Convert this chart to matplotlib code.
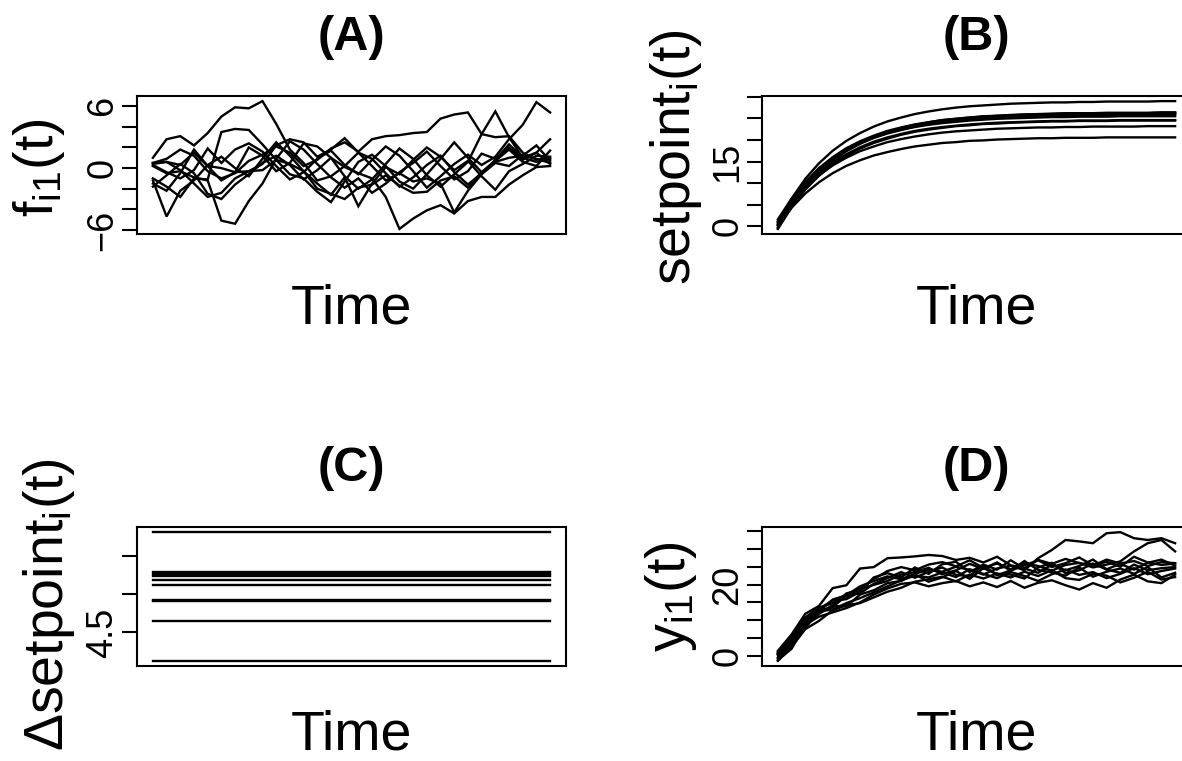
#!/usr/bin/env python3
# -*- coding: utf-8 -*-
# Figura de 4 paneles: f_i1(t), setpoint_i(t), delta setpoint_i(t), y_i1(t)
# Uso: python plot.py  -> out.png

import matplotlib
matplotlib.use("Agg")
import matplotlib.pyplot as plt

plt.rcParams["font.family"] = ["Liberation Sans", "DejaVu Sans"]
plt.rcParams["mathtext.fontset"] = "custom"
plt.rcParams["mathtext.rm"] = "Liberation Sans"
plt.rcParams["mathtext.it"] = "Liberation Sans:italic"
plt.rcParams["mathtext.bf"] = "Liberation Sans:bold"

TIEMPO = list(range(1, 31))

# (A) f_i1(t), 10 series
F_I1 = [
    [1.0, 2.8, 3.1, 2.2, 3.4, 5.0, 5.9, 5.8, 6.5, 4.3, 1.8, 0.5, -1.2, -0.8, 0.2,
     1.5, 0.9, -0.5, -1.8, -0.9, 0.3, 1.2, -0.4, -1.6, -0.5, 0.8, 2.3, 1.0, 0.6, 0.9],
    [0.5, 0.9, 1.8, 1.2, -0.3, -1.0, -0.5, 0.7, 1.3, 2.1, 1.5, 0.2, 0.8, 1.9, 2.5,
     1.6, 2.8, 3.1, 3.2, 3.4, 3.5, 4.8, 5.2, 5.4, 3.3, 3.0, 3.1, 1.5, 0.8, 1.0],
    [-1.5, -2.2, -0.5, 1.8, 0.2, -1.2, -0.4, 2.0, 1.2, -0.3, 0.5, 2.4, 2.1, 1.0, -0.8,
     -2.0, -1.1, 0.4, 1.9, 0.9, -0.7, -1.8, -0.6, 0.6, 3.3, 5.5, 3.0, 1.0, 1.5, 2.8],
    [0.3, -0.4, -1.0, -0.2, 1.9, 0.5, 1.8, 2.4, 1.6, 0.2, -1.1, -0.4, 0.9, 1.7, 0.3,
     -0.6, 0.8, 2.1, 1.2, -0.3, -1.9, -0.8, 0.4, 1.3, 0.3, 1.1, 2.8, 4.2, 6.4, 5.4],
    [-1.8, -0.7, 0.4, -0.5, -2.5, -3.0, -1.6, -0.6, 0.5, 1.2, 0.3, -1.1, -0.2, 1.0, 0.1,
     -0.5, -1.0, -2.8, -5.9, -4.9, -4.1, -3.6, -4.4, -3.2, -2.8, -2.8, -1.6, -0.7, 0.1, 0.2],
    [0.5, 0.6, -0.2, -1.5, -2.8, -2.4, -1.0, -0.3, 0.4, 2.2, 2.8, 2.5, 1.1, 1.8, 2.9,
     1.5, 0.2, -1.2, -0.5, -1.3, -1.0, -1.5, -4.3, -2.2, -0.6, 0.5, 0.2, 1.3, 0.9, 0.5],
    [-1.2, -4.7, -2.2, -1.2, 0.3, 1.1, 0.0, -0.8, 0.9, 2.5, 1.2, -0.3, -1.5, -2.6, -0.9,
     -3.7, -1.5, 0.1, -0.6, 0.8, 2.0, 1.1, -0.2, 0.7, -0.8, -2.1, -0.3, 0.4, 1.2, 1.1],
    [0.2, -0.5, -0.3, -0.9, -1.2, -5.1, -5.4, -3.2, -1.5, 0.9, 2.6, 1.8, 0.4, -0.9, -1.9,
     -1.0, -2.4, -1.5, -0.4, 0.5, 1.6, 0.2, -1.1, -0.3, 1.4, 0.9, 2.0, 0.8, 1.5, 0.4],
    [-1.0, -1.8, -2.8, -1.0, -1.1, 3.5, 3.8, 3.7, 2.3, 0.8, -0.6, -1.0, -2.3, -3.3, -1.3,
     0.6, 1.3, 0.2, -1.3, -2.0, -0.6, 0.9, 2.5, 1.0, -0.4, 0.7, 1.8, 0.6, 0.2, 1.7],
    [0.4, 0.6, 0.3, 1.5, 0.2, 0.0, -0.4, -0.3, -0.2, 0.8, 0.4, -0.3, -2.0, -2.5, -3.0,
     -1.9, -1.6, -0.7, -1.7, -2.4, -2.3, -1.2, -0.8, -1.9, -0.4, 0.6, 1.0, 1.2, 2.2, 0.7],
]

# (B) setpoint_i(t)
SETPOINT = [
    [0.8, 6.4, 11.0, 14.6, 17.5, 19.8, 21.6, 23.1, 24.3, 25.2, 26.0, 26.6, 27.1, 27.5, 27.8,
     28.0, 28.2, 28.4, 28.5, 28.6, 28.7, 28.7, 28.8, 28.8, 28.9, 28.9, 28.9, 28.9, 29.0, 29.0],
    [-0.5, 4.9, 9.2, 12.6, 15.4, 17.6, 19.4, 20.8, 21.9, 22.8, 23.5, 24.1, 24.6, 24.9, 25.2,
     25.5, 25.6, 25.8, 25.9, 26.0, 26.1, 26.2, 26.2, 26.2, 26.3, 26.3, 26.3, 26.3, 26.4, 26.4],
    [1.2, 6.2, 10.2, 13.5, 16.0, 18.1, 19.7, 21.0, 22.1, 22.9, 23.6, 24.1, 24.6, 24.9, 25.2,
     25.4, 25.6, 25.7, 25.9, 25.9, 26.0, 26.1, 26.1, 26.2, 26.2, 26.2, 26.2, 26.2, 26.3, 26.3],
    [0.3, 5.5, 9.6, 12.9, 15.6, 17.7, 19.4, 20.7, 21.8, 22.7, 23.4, 23.9, 24.4, 24.7, 25.0,
     25.2, 25.4, 25.6, 25.7, 25.8, 25.9, 25.9, 26.0, 26.0, 26.0, 26.1, 26.1, 26.1, 26.1, 26.1],
    [-0.2, 5.0, 9.2, 12.6, 15.2, 17.4, 19.1, 20.5, 21.6, 22.4, 23.1, 23.7, 24.2, 24.5, 24.8,
     25.0, 25.2, 25.4, 25.5, 25.6, 25.7, 25.7, 25.8, 25.8, 25.8, 25.9, 25.9, 25.9, 25.9, 25.9],
    [1.6, 6.4, 10.2, 13.3, 15.7, 17.7, 19.3, 20.5, 21.5, 22.3, 23.0, 23.5, 23.9, 24.2, 24.5,
     24.7, 24.9, 25.0, 25.1, 25.2, 25.3, 25.3, 25.4, 25.4, 25.4, 25.5, 25.5, 25.5, 25.5, 25.5],
    [0.5, 5.3, 9.2, 12.3, 14.8, 16.7, 18.3, 19.6, 20.6, 21.4, 22.1, 22.6, 23.0, 23.3, 23.6,
     23.8, 24.0, 24.1, 24.2, 24.3, 24.4, 24.4, 24.5, 24.5, 24.5, 24.6, 24.6, 24.6, 24.6, 24.6],
    [-0.6, 4.4, 8.5, 11.7, 14.3, 16.3, 18.0, 19.3, 20.3, 21.2, 21.9, 22.4, 22.8, 23.2, 23.4,
     23.7, 23.8, 24.0, 24.1, 24.2, 24.3, 24.3, 24.4, 24.4, 24.4, 24.5, 24.5, 24.5, 24.5, 24.5],
    [1.0, 5.4, 9.0, 11.8, 14.1, 15.9, 17.4, 18.5, 19.5, 20.2, 20.8, 21.3, 21.7, 22.0, 22.2,
     22.4, 22.6, 22.7, 22.8, 22.9, 22.9, 23.0, 23.0, 23.1, 23.1, 23.1, 23.1, 23.2, 23.2, 23.2],
    [0.2, 4.3, 7.6, 10.2, 12.3, 14.0, 15.3, 16.4, 17.2, 17.9, 18.5, 18.9, 19.3, 19.5, 19.8,
     19.9, 20.1, 20.2, 20.3, 20.4, 20.4, 20.5, 20.5, 20.5, 20.6, 20.6, 20.6, 20.6, 20.6, 20.6],
]

# (C) delta setpoint_i, constante en el tiempo
DELTA = [5.804, 5.282, 5.261, 5.230, 5.187, 5.113, 4.926, 4.909, 4.643, 4.131]

# (D) y_i1(t)
Y_I1 = [
    [0.5, 4.5, 10.2, 12.5, 15.8, 17.0, 19.5, 21.0, 22.3, 21.5, 23.0, 24.2, 23.6, 25.0, 24.1,
     22.8, 24.5, 25.3, 24.0, 27.4, 29.7, 32.5, 32.1, 31.6, 34.4, 34.7, 33.0, 32.5, 33.0, 31.6],
    [-0.8, 3.5, 9.5, 12.0, 14.2, 17.5, 18.6, 21.5, 23.8, 24.9, 24.0, 25.6, 26.3, 25.1, 26.8,
     24.7, 25.9, 24.3, 26.0, 25.2, 23.9, 25.5, 26.1, 24.8, 25.6, 26.5, 29.3, 31.6, 32.5, 29.3],
    [1.4, 6.0, 11.8, 14.0, 19.0, 19.8, 24.5, 24.9, 27.4, 27.6, 27.9, 28.3, 28.0, 26.9, 27.5,
     26.2, 27.8, 25.4, 24.6, 26.9, 25.8, 27.2, 26.0, 25.3, 27.0, 25.9, 26.6, 25.2, 26.3, 26.0],
    [-1.2, 2.0, 8.8, 11.0, 12.2, 13.4, 15.0, 17.2, 18.9, 20.2, 20.6, 19.5, 20.4, 21.0, 19.5,
     20.6, 19.3, 21.0, 19.1, 20.5, 21.2, 19.8, 18.6, 20.4, 19.1, 21.4, 22.8, 20.9, 20.4, 22.8],
    [0.2, 3.0, 7.8, 12.5, 13.0, 14.8, 16.2, 17.8, 19.5, 21.2, 22.5, 22.0, 23.4, 22.1, 24.3,
     23.0, 21.8, 23.5, 22.4, 21.0, 22.9, 24.2, 22.7, 23.5, 21.8, 23.0, 24.6, 22.9, 23.8, 24.5],
    [0.8, 5.2, 10.8, 13.5, 14.8, 16.2, 18.8, 19.9, 21.0, 22.8, 23.5, 24.7, 22.9, 24.0, 25.8,
     24.4, 26.2, 23.9, 25.4, 26.8, 24.9, 26.0, 27.6, 25.4, 26.4, 25.0, 27.8, 26.2, 25.5, 25.9],
    [-0.4, 4.0, 9.0, 13.2, 15.5, 15.9, 18.0, 22.0, 23.2, 22.0, 24.8, 23.0, 25.7, 26.4, 23.5,
     25.6, 24.2, 26.8, 24.5, 23.3, 25.6, 24.0, 25.2, 27.0, 24.3, 25.8, 24.2, 26.1, 27.0, 25.3],
    [1.0, 2.8, 10.0, 12.8, 13.6, 17.0, 17.5, 20.2, 21.8, 23.5, 21.9, 23.6, 24.8, 22.7, 22.4,
     25.4, 22.6, 24.0, 26.6, 24.1, 23.4, 22.5, 24.8, 22.2, 23.6, 24.5, 23.0, 24.9, 22.0, 23.3],
    [-1.4, 2.5, 7.5, 9.8, 12.8, 14.2, 14.8, 16.4, 18.0, 19.1, 20.8, 21.5, 22.2, 20.9, 22.8,
     21.7, 23.1, 22.0, 23.6, 22.4, 24.0, 21.8, 21.3, 23.0, 22.5, 20.6, 21.9, 23.6, 21.4, 22.1],
    [0.6, 4.8, 8.3, 11.8, 14.0, 13.9, 17.2, 18.4, 20.4, 21.0, 22.9, 20.8, 22.0, 23.8, 21.6,
     24.6, 23.0, 22.8, 21.7, 24.8, 26.1, 23.2, 24.0, 25.9, 24.2, 23.3, 25.6, 24.0, 24.6, 24.9],
]

TITULOS = ["(A)", "(B)", "(C)", "(D)"]
ETIQUETAS_Y = [r"f$_{\mathrm{i1}}$(t)", r"setpoint$_{\mathrm{i}}$(t)",
               r"Δsetpoint$_{\mathrm{i}}$(t)", r"y$_{\mathrm{i1}}$(t)"]
TICKS_Y = [[-6, -4, -2, 0, 2, 4, 6], [0, 5, 10, 15, 20, 25, 30],
           [4.5, 5.0, 5.5], [0, 5, 10, 15, 20, 25, 30, 35]]
TEXTO_TICKS_Y = [["\u22126", "", "", "0", "", "", "6"], ["0", "", "", "15", "", "", ""],
                 ["4.5", "", ""], ["0", "", "", "", "20", "", "", ""]]

ANCHO, ALTO = 1182, 761


def rango_r(valores):
    # rango con la extension del 4 % que usa R
    lo, hi = min(valores), max(valores)
    ext = 0.04 * (hi - lo)
    return lo - ext, hi + ext


def main():
    fig = plt.figure(figsize=(ANCHO / 100, ALTO / 100), dpi=100)

    series_c = [[d] * len(TIEMPO) for d in DELTA]
    datos = [F_I1, SETPOINT, series_c, Y_I1]

    # caja de cada panel en pixeles: izquierda, arriba, ancho, alto,
    # x de la etiqueta y, centro de la etiqueta y, distancia a "Time"
    cajas = [(137, 96, 429, 138, 53, 168, 89),
             (762, 96, 429, 138, 690, 157, 89),
             (137, 527, 429, 139, 63, 605, 84),
             (762, 527, 429, 139, 685, 597, 84)]

    for k, (izq, arr, w, h, xlab, ylab, dt) in enumerate(cajas):
        ax = fig.add_axes([izq / ANCHO, 1 - (arr + h) / ALTO, w / ANCHO, h / ALTO])
        for serie in datos[k]:
            ax.plot(TIEMPO, serie, color="black", lw=1.7, solid_joinstyle="miter")

        todos = [v for s in datos[k] for v in s]
        ax.set_xlim(*rango_r(TIEMPO))
        ax.set_ylim(*rango_r(todos))
        ax.set_xticks([])
        ax.set_yticks(TICKS_Y[k])
        ax.set_yticklabels(TEXTO_TICKS_Y[k], rotation=90, va="center")
        ax.tick_params(axis="y", direction="out", length=10.8, width=1.5,
                       labelsize=26, pad=1)
        for sp in ax.spines.values():
            sp.set_linewidth(1.5)

        cx = (izq + w / 2) / ANCHO
        fig.text(cx, 1 - (arr - 46) / ALTO, TITULOS[k], ha="center", va="baseline",
                 fontsize=35, fontweight="bold")
        fig.text(cx, 1 - (arr + h + dt) / ALTO, "Time", ha="center", va="baseline",
                 fontsize=40)
        fig.text(xlab / ANCHO, 1 - ylab / ALTO, ETIQUETAS_Y[k], rotation=90,
                 rotation_mode="anchor", ha="center", va="baseline", fontsize=40)

    fig.savefig("out.png", dpi=100)
    plt.close(fig)


if __name__ == "__main__":
    main()
